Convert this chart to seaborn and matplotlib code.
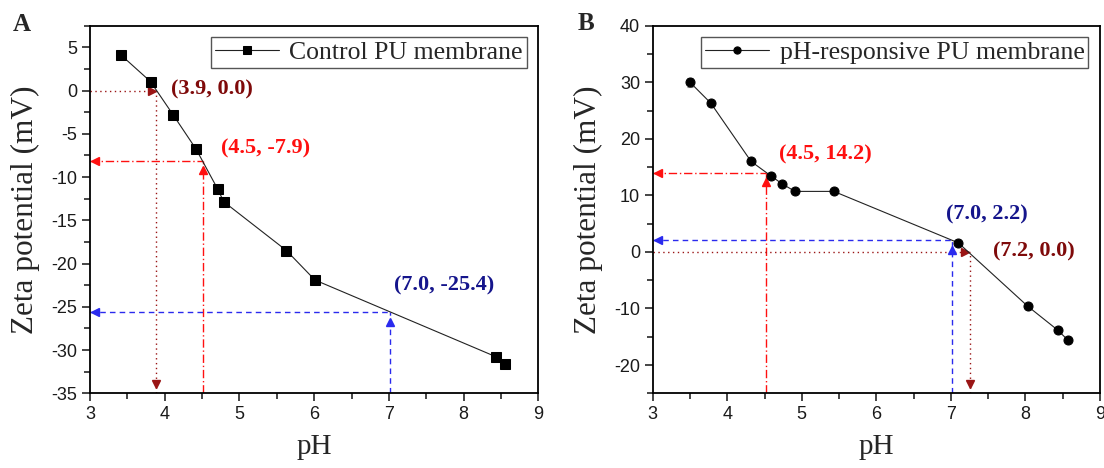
import numpy as np
import pandas as pd
import seaborn as sns
import matplotlib
matplotlib.use("Agg")
import matplotlib.pyplot as plt
from matplotlib.ticker import MultipleLocator

# ---------------- data ----------------
ph_a = [3.41, 3.81, 4.11, 4.42, 4.71, 4.79, 5.63, 6.01, 8.44, 8.55]
zeta_a = [4.15, 1.04, -2.77, -6.77, -11.4, -12.85, -18.5, -21.9, -30.8, -31.6]
err_a = [0.3, 0.3, 0.2, 0.2, 0.3, 0.3, 0.2, 0.4, 0.3, 0.3]
label_a = "Control PU membrane"

ph_b = [3.50, 3.78, 4.32, 4.59, 4.74, 4.91, 5.43, 7.10, 8.03, 8.43, 8.57]
zeta_b = [30.0, 26.3, 16.0, 13.4, 12.0, 10.7, 10.7, 1.6, -9.6, -13.8, -15.6]
err_b = [0.8, 0.4, 0.3, 0.3, 0.3, 0.3, 0.3, 0.3, 0.3, 0.3, 0.3]
label_b = "pH-responsive PU membrane"

guides_a = [(3.89, 0.0), (4.51, -8.1), (7.01, -25.6)]
texts_a = ["(3.9, 0.0)", "(4.5, -7.9)", "(7.0, -25.4)"]
text_pos_a = [(4.09, 0.1), (4.75, -6.7), (7.07, -22.5)]

guides_b = [(4.52, 14.0), (7.01, 2.1), (7.25, 0.0)]
texts_b = ["(4.5, 14.2)", "(7.0, 2.2)", "(7.2, 0.0)"]
text_pos_b = [(4.69, 17.2), (6.94, 6.7), (7.56, 0.1)]

xlim = (3, 9)
ylim_a = (-35, 7.5)
ylim_b = (-25, 40)

# ---------------- style ----------------
sns.set_style("ticks")
plt.rcParams['font.family'] = ['Liberation Serif', 'DejaVu Serif']
plt.rcParams['axes.linewidth'] = 1.3
plt.rcParams['axes.unicode_minus'] = False

DARKRED = '#7f0a0a'
DARKRED_LINE = '#9a1515'
RED = '#ff1010'
BLUE_TXT = '#15158c'
BLUE_LINE = '#2a2aee'

fig = plt.figure(figsize=(11.04, 4.68), dpi=100)
axA = fig.add_axes([0.0815, 0.1596, 0.4061, 0.7855])
axB = fig.add_axes([0.5912, 0.1596, 0.4052, 0.7855])

df_a = pd.DataFrame({"pH": ph_a, "zeta": zeta_a})
df_b = pd.DataFrame({"pH": ph_b, "zeta": zeta_b})


def ylim_span(ax):
    lo, hi = ax.get_ylim()
    return hi - lo


def guide(ax, gx, gy, ymin, color, ls, style):
    # horizontal from axis to point, vertical from bottom to point
    ax.plot([xlim[0], gx], [gy, gy], color=color, ls=ls, lw=1.0, zorder=1)
    ax.plot([gx, gx], [ymin, gy], color=color, ls=ls, lw=1.0, zorder=1)
    tri = 5.5
    if style == 'in':  # arrows pointing to the point (right) and down at bottom
        ax.plot([gx - 0.06], [gy], marker='>', ms=tri, color=color, mec=color, zorder=2)
        ax.plot([gx], [ymin + 0.026 * ylim_span(ax)], marker='v', ms=tri, color=color, mec=color, zorder=2)
    else:  # arrows pointing left at the axis and up at the point
        ax.plot([xlim[0] + 0.07], [gy], marker='<', ms=tri, color=color, mec=color, zorder=2)
        ax.plot([gx], [gy - 0.026 * ylim_span(ax)], marker='^', ms=tri, color=color, mec=color, zorder=2)


for ax, df, err, lab, mk, ms, ylim, major, minor in [
        (axA, df_a, err_a, label_a, 's', 7, ylim_a, 5, 2.5),
        (axB, df_b, err_b, label_b, 'o', 6.5, ylim_b, 10, 5)]:
    ax.set_xlim(*xlim)
    ax.set_ylim(*ylim)
    ax.errorbar(df["pH"], df["zeta"], yerr=err, fmt='none', ecolor='#888888',
                elinewidth=0.8, capsize=2.5, capthick=0.8, zorder=2)
    sns.lineplot(data=df, x="pH", y="zeta", ax=ax, color='#222222', lw=0.8,
                 marker=mk, markersize=ms, markerfacecolor='black',
                 markeredgecolor='black', label=lab, zorder=3)
    ax.xaxis.set_major_locator(MultipleLocator(1))
    ax.xaxis.set_minor_locator(MultipleLocator(0.5))
    ax.yaxis.set_major_locator(MultipleLocator(major))
    ax.yaxis.set_minor_locator(MultipleLocator(minor))
    ax.tick_params(which='major', direction='out', length=6, width=1.2,
                   top=False, right=False, pad=3)
    ax.tick_params(which='minor', direction='out', length=4, width=1.2,
                   top=False, right=False)
    for t in ax.get_xticklabels() + ax.get_yticklabels():
        t.set_fontfamily('Liberation Sans')
        t.set_fontsize(13)
        t.set_color('#1a1a1a')
    for s in ax.spines.values():
        s.set_visible(True)
        s.set_color('black')
        s.set_linewidth(1.3)
    ax.set_xlabel("pH", fontsize=21, labelpad=8)
    ax.set_ylabel("Zeta potential (mV)", fontsize=22.5, labelpad=8)
    leg = ax.legend(loc='upper right', fontsize=18.5, frameon=True, fancybox=False,
                    edgecolor='#555555', handlelength=2.5, handletextpad=0.4,
                    borderpad=0.15, borderaxespad=0.45, framealpha=1,
                    markerscale=0.8)
    leg.get_frame().set_linewidth(1.0)

# guide lines panel A
styles = [(DARKRED_LINE, (0, (1, 2.5)), 'in'), (RED, (0, (6, 2, 1, 2)), 'out'),
          (BLUE_LINE, (0, (4, 3)), 'out')]
for (gx, gy), (c, ls, st) in zip(guides_a, styles):
    guide(axA, gx, gy, ylim_a[0], c, ls, st)

stylesB = [(RED, (0, (6, 2, 1, 2)), 'out'), (BLUE_LINE, (0, (4, 3)), 'out'),
           (DARKRED_LINE, (0, (1, 2.5)), 'in')]
for (gx, gy), (c, ls, st) in zip(guides_b, stylesB):
    guide(axB, gx, gy, ylim_b[0], c, ls, st)

txt_colors_a = [DARKRED, RED, BLUE_TXT]
for t, (tx, ty), c in zip(texts_a, text_pos_a, txt_colors_a):
    axA.text(tx, ty, t, color=c, fontsize=16, fontweight='bold', va='center', ha='left')
txt_colors_b = [RED, BLUE_TXT, DARKRED]
for t, (tx, ty), c in zip(texts_b, text_pos_b, txt_colors_b):
    axB.text(tx, ty, t, color=c, fontsize=16, fontweight='bold', va='center', ha='left')

fig.text(13 / 1104, 1 - 31 / 468, "A", fontsize=18, fontweight='bold', ha='left', va='baseline')
fig.text(578 / 1104, 1 - 30 / 468, "B", fontsize=18, fontweight='bold', ha='left', va='baseline')

fig.savefig("out.png", dpi=100)
